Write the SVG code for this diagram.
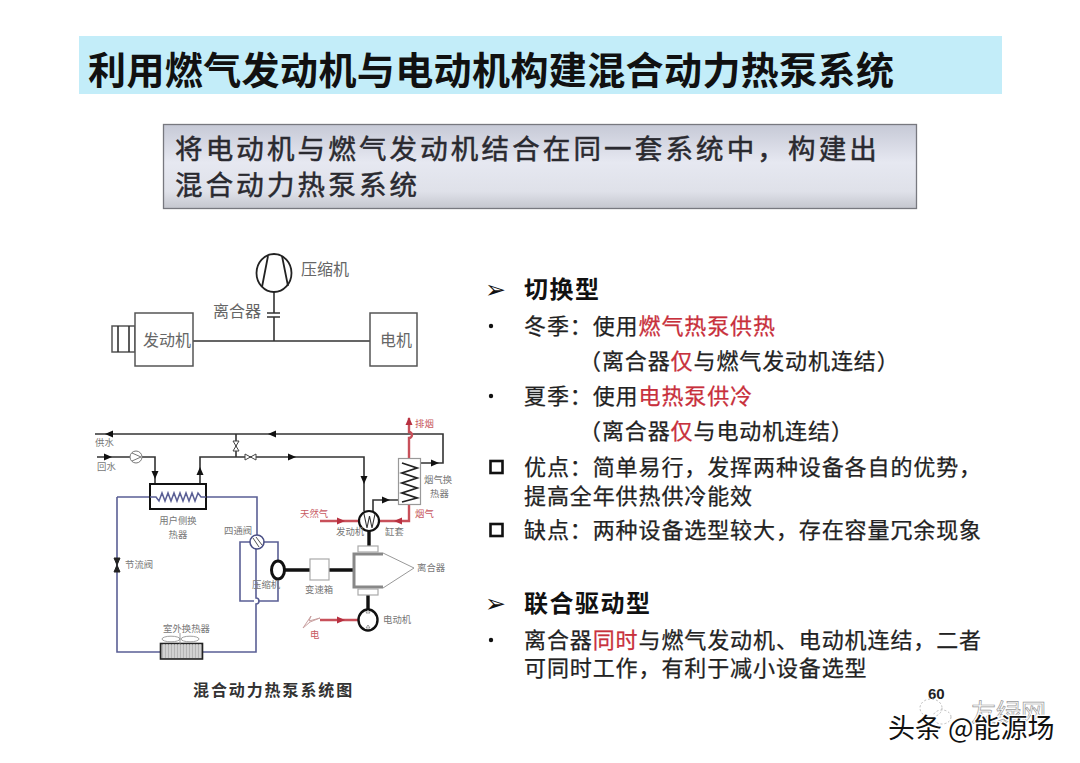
<svg xmlns="http://www.w3.org/2000/svg" width="1080" height="763" viewBox="0 0 1080 763">
<style>
text{font-family:"Noto Sans CJK SC","Liberation Sans",sans-serif}
.title{font-size:38px;font-weight:700;letter-spacing:.4px;fill:#111}
.sub{font-size:27.5px;letter-spacing:3.15px;fill:#2a2a30;stroke:#2a2a30;stroke-width:.5}
.h{font-size:24px;font-weight:700;letter-spacing:1.5px;fill:#111}
.b{font-size:22px;letter-spacing:.9px;fill:#222;stroke:#222;stroke-width:.25}
.r{fill:#c8303c;stroke:#c8303c}
.l1{font-size:16px;fill:#666}
.l2{font-size:9.4px;fill:#777}
.lr{font-size:9.4px;fill:#c85a62}
.cap{font-size:16px;letter-spacing:1.9px;fill:#333;font-weight:700}
.k{fill:none;stroke:#333;stroke-width:1.6}
.kt{fill:none;stroke:#111;stroke-width:3.4}
.bl{fill:none;stroke:#5a5f95;stroke-width:1.6}
.rd{fill:none;stroke:#c8505a;stroke-width:2.4}
.box{fill:#fff;stroke:#555;stroke-width:1.5}
.gb{fill:#fff;stroke:#aaa;stroke-width:1.2}
.a{fill:#111}
.ra{fill:#b83040}
.ga{font-size:25px;font-family:"DejaVu Sans",sans-serif;fill:#111}
</style>
<defs>
<linearGradient id="g" x1="0" y1="0" x2="0" y2="1">
<stop offset="0" stop-color="#c6c9d6"/><stop offset=".45" stop-color="#e6e8f1"/><stop offset=".8" stop-color="#dfe1e9"/><stop offset="1" stop-color="#c4c6ce"/>
</linearGradient>
<polygon id="ar" points="-4,-3.5 4,0 -4,3.5"/>
<polygon id="al" points="4,-3.5 -4,0 4,3.5"/>
<polygon id="ad" points="-3.5,-4 3.5,-4 0,4"/>
<polygon id="au" points="-3.5,4 3.5,4 0,-4"/>
</defs>

<g id="title-band">
<rect x="79" y="36" width="923" height="58" fill="#c3edf9"/>
<text class="title" x="88" y="84">利用燃气发动机与电动机构建混合动力热泵系统</text>
</g>
<g id="subtitle-box">
<rect x="163.500" y="124.500" width="753" height="84" fill="url(#g)" stroke="#77787f" stroke-width="1.300"/>
<text class="sub" x="175" y="159">将电动机与燃气发动机结合在同一套系统中，构建出</text>
<text class="sub" x="175" y="195">混合动力热泵系统</text>
</g>

<g id="connectors">
<path class="k" d="M274 292V313M274 317V341M193 341H370"/>
<path class="k" d="M267 313H280M267 317H280"/>
<path class="k" d="M95 434H443V463H418"/>
<path class="k" d="M97 457H130M142 457H155V484"/>
<path class="k" d="M200 484V457H364V511"/>
<path class="k" d="M236 434V457"/>
<path class="k" d="M373 512V500H398"/>
<path class="bl" d="M117 497H149M206 497H257V535"/>
<path class="bl" d="M117 497V652H160M203 652H256V604a3 3 0 0 0 0-6V549"/>
<path class="bl" d="M250 542H240V601H254M264 542H278V560M278 580V601H258"/>
<path class="rd" d="M409 458V438a3 3 0 0 0 0-6V418"/>
<path class="rd" d="M409 504V521H379M359 521H320"/>
<path class="rd" d="M320 620H358"/>
<path class="kt" d="M369 531V547M368 595V609M285 570H310M329 570H353"/>
<use href="#al" x="109" y="434" class="a"/><use href="#al" x="272" y="434" class="a"/>
<use href="#ar" x="108" y="457" class="a"/><use href="#ad" x="155" y="475" class="a"/>
<use href="#au" x="200" y="471" class="a"/><use href="#ar" x="292" y="457" class="a"/>
<use href="#ad" x="364" y="480" class="a"/><use href="#ar" x="435" y="463" class="a"/>
<use href="#ar" x="386" y="500" class="a"/>
<use href="#au" x="409" y="421" class="ra"/>
<use href="#ar" x="341" y="521" class="ra"/><use href="#al" x="398" y="521" class="ra"/>
<use href="#ar" x="341" y="620" class="ra"/>
</g>

<g id="compressor-top">
<ellipse cx="274" cy="273" rx="17.500" ry="19" fill="#fff" stroke="#222" stroke-width="1.800"/>
<path d="M262 287L268 256M282 256L288 286" fill="none" stroke="#222" stroke-width="1.800"/>
<text class="l1" x="301" y="275">压缩机</text>
</g>
<g id="clutch-top"><text class="l1" x="213" y="317">离合器</text></g>
<g id="engine-top">
<rect class="box" x="112" y="326" width="23" height="26"/><path class="k" d="M118 326V352M129 326V352"/>
<rect class="box" x="135" y="313" width="58" height="53"/>
<text class="l1" x="143" y="346">发动机</text>
</g>
<g id="motor-top">
<rect class="box" x="370" y="313" width="47" height="53"/>
<text class="l1" x="380" y="346">电机</text>
</g>

<g id="water-labels">
<text class="l2" x="95" y="446">供水</text><text class="l2" x="97" y="470">回水</text>
</g>
<g id="pump"><circle cx="136" cy="457" r="6" fill="#fff" stroke="#777" stroke-width="1"/><path d="M132 453L141 457L132 461" fill="none" stroke="#777"/></g>
<g id="valve-v"><path d="M233 441H239L233 451H239Z" fill="#fff" stroke="#444"/></g>
<g id="valve-h"><path d="M245 454V460L256 454V460Z" fill="#fff" stroke="#444"/></g>
<g id="user-hx">
<rect x="150" y="484" width="56" height="25" fill="#fff" stroke="#111" stroke-width="2"/>
<path d="M150 497H156L159 501L162 493L165 501L168 493L171 501L174 493L177 501L180 493L183 501L186 493L189 501L192 493L195 501L198 493L201 497H206" fill="none" stroke="#5a5f95" stroke-width="1.500"/>
<text class="l2" x="178" y="524" text-anchor="middle">用户侧换</text>
<text class="l2" x="178" y="538" text-anchor="middle">热器</text>
</g>
<g id="four-way">
<circle cx="257" cy="542" r="7" fill="#fff" stroke="#4a4f85" stroke-width="1.600"/>
<path d="M253 538L259 547M256 537L262 545" stroke="#555" fill="none"/>
<text class="l2" x="224" y="534">四通阀</text>
</g>
<g id="throttle"><path d="M114 558H120L114 572H120Z" fill="#222" stroke="#222"/><text class="l2" x="125" y="568">节流阀</text></g>
<g id="outdoor-hx">
<rect x="160.500" y="643.500" width="42" height="15.500" fill="#b5b5b5" stroke="#222" stroke-width="1.600"/>
<path d="M164 644V658M167 644V658M170 644V658M173 644V658M176 644V658M179 644V658M182 644V658M185 644V658M188 644V658M191 644V658M194 644V658M197 644V658M200 644V658" stroke="#eee" stroke-width="1"/>
<ellipse cx="171" cy="639" rx="9" ry="2.800" fill="#fff" stroke="#888" stroke-width=".8"/>
<ellipse cx="190" cy="639" rx="9" ry="2.800" fill="#fff" stroke="#888" stroke-width=".8"/>
<path d="M180 633V644" stroke="#888" stroke-width=".8"/>
<text class="l2" x="163" y="632">室外换热器</text>
</g>
<g id="compressor">
<ellipse cx="278" cy="570" rx="6.500" ry="9" fill="#fff" stroke="#111" stroke-width="3"/>
<text class="l2" x="252" y="588">压缩机</text>
</g>
<g id="gearbox">
<rect class="gb" x="310" y="559" width="19" height="21"/>
<text class="l2" x="305" y="593">变速箱</text>
</g>
<g id="engine">
<circle cx="369" cy="521" r="10" fill="#fff" stroke="#111" stroke-width="2.200"/>
<path d="M364 514L367 528L369.500 516L372 528L375 514" fill="none" stroke="#333" stroke-width="1.100"/>
<text class="l2" x="336" y="535">发动机</text>
<text class="l2" x="385" y="535">缸套</text>
<text class="lr" x="300" y="517">天然气</text>
<text class="lr" x="415" y="517">烟气</text>
</g>
<g id="flue-hx">
<rect x="398.500" y="458.500" width="22" height="46" fill="#fff" stroke="#999" stroke-width="1.200"/>
<path d="M402 463L417 468L402 473L417 478L402 483L417 488L402 493L417 498L402 502" fill="none" stroke="#222" stroke-width="1.800"/>
<text class="l2" x="424" y="483">烟气换</text>
<text class="l2" x="430" y="497">热器</text>
<text class="lr" x="415" y="427">排烟</text>
</g>
<g id="clutch">
<path d="M383 553L414 568L383 588" fill="#fff" stroke="#999" stroke-width="1"/>
<path d="M383 554H354V587H383" fill="none" stroke="#888" stroke-width="3"/>
<rect class="gb" x="358" y="546" width="20" height="6"/>
<rect class="gb" x="358" y="589" width="20" height="6"/>
<text class="l2" x="417" y="571">离合器</text>
</g>
<g id="motor">
<ellipse cx="368" cy="620" rx="9.500" ry="10.500" fill="#fff" stroke="#111" stroke-width="2.400"/>
<path d="M366 613L368 610L370 613ZM366 628L368 625L370 628Z" fill="#fff" stroke="#777" stroke-width=".7"/>
<text class="l2" x="383" y="623">电动机</text>
</g>
<g id="power">
<path d="M303 628L311 616L309 621L320 618L310 622Z" fill="#fff" stroke="#c9a0a0"/>
<text class="lr" x="310" y="638">电</text>
</g>
<text class="cap" x="193" y="696">混合动力热泵系统图</text>

<g id="text-right">
<text class="ga" x="485" y="298">➢</text>
<text class="h" x="524" y="298">切换型</text>
<circle cx="491" cy="326" r="2.200" fill="#111"/>
<text class="b" x="524" y="334">冬季：使用<tspan class="r">燃气热泵供热</tspan></text>
<text class="b" x="579" y="369">（离合器<tspan class="r">仅</tspan>与燃气发动机连结）</text>
<circle cx="491" cy="396" r="2.200" fill="#111"/>
<text class="b" x="524" y="404">夏季：使用<tspan class="r">电热泵供冷</tspan></text>
<text class="b" x="579" y="439">（离合器<tspan class="r">仅</tspan>与电动机连结）</text>
<rect x="490.500" y="461" width="12" height="12" fill="#fff" stroke="#111" stroke-width="2.600"/>
<text class="b" x="524" y="475">优点：简单易行，发挥两种设备各自的优势，</text>
<text class="b" x="524" y="504">提高全年供热供冷能效</text>
<rect x="490.500" y="524" width="12" height="12" fill="#fff" stroke="#111" stroke-width="2.600"/>
<text class="b" x="524" y="538">缺点：两种设备选型较大，存在容量冗余现象</text>
<text class="ga" x="485" y="612">➢</text>
<text class="h" x="524" y="612">联合驱动型</text>
<circle cx="491" cy="640" r="2.200" fill="#111"/>
<text class="b" x="524" y="648">离合器<tspan class="r">同时</tspan>与燃气发动机、电动机连结，二者</text>
<text class="b" x="524" y="676">可同时工作，有利于减小设备选型</text>
</g>

<g id="watermark">
<text x="928" y="699" font-size="15" font-weight="700" style="font-family:'Liberation Sans',sans-serif" fill="#222">60</text>
<ellipse cx="931" cy="708" rx="11" ry="9" fill="none" stroke="#bbb" stroke-dasharray="2 2"/>
<ellipse cx="942" cy="717" rx="9" ry="7" fill="none" stroke="#bbb" stroke-dasharray="2 2"/>
<text x="971" y="722" font-size="25" fill="#fff" stroke="#999" stroke-width=".7">友绿网</text>
<text x="888" y="738" font-size="27" fill="#111" stroke="#fff" stroke-width="2.500" paint-order="stroke">头条 @能源场</text>
</g>
</svg>
